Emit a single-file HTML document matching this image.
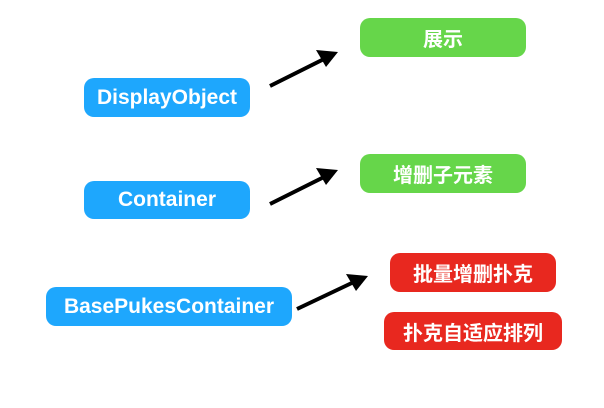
<!DOCTYPE html>
<html><head><meta charset="utf-8"><style>
body{margin:0;width:604px;height:408px;background:#fff;position:relative;overflow:hidden;font-family:"Liberation Sans","Noto Sans CJK SC",sans-serif;}
.b{position:absolute;border-radius:10px;color:#fff;font-weight:bold;font-size:21px;display:flex;align-items:center;justify-content:center;}
.c{font-size:20px}
.bl{background:#1ea7fd}.g{background:#66d64a}.r{background:#e8281f}
</style></head><body>
<div class="b bl" style="left:84px;top:78px;width:166px;height:39px">DisplayObject</div>
<div class="b bl" style="left:84px;top:181px;width:166px;height:38px">Container</div>
<div class="b bl" style="left:46px;top:287px;width:246px;height:39px">BasePukesContainer</div>
<div class="b g c" style="left:360px;top:18px;width:166px;height:39px">展示</div>
<div class="b g c" style="left:360px;top:154px;width:166px;height:39px">增删子元素</div>
<div class="b r c" style="left:390px;top:253px;width:166px;height:39px">批量增删扑克</div>
<div class="b r c" style="left:384px;top:312px;width:178px;height:38px">扑克自适应排列</div>
<svg width="604" height="408" style="position:absolute;left:0;top:0">
<g stroke="#000" stroke-width="4">
<line x1="270" y1="86" x2="326" y2="58"/>
<line x1="270" y1="204" x2="326" y2="176"/>
<line x1="297" y1="309" x2="356" y2="281"/>
</g>
<g fill="#000">
<polygon points="338,52 316,50 326,67"/>
<polygon points="338,170 316,168 326,185"/>
<polygon points="368,276 346,274 356,291"/>
</g>
</svg>
</body></html>
